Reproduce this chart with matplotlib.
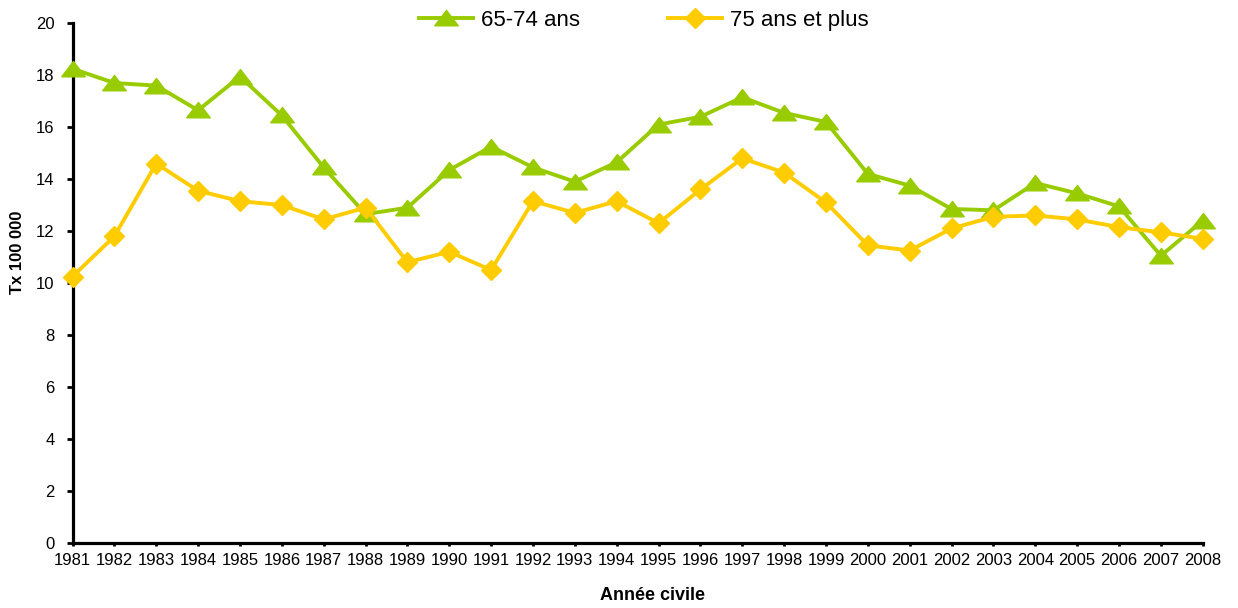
"""
Taux pour 100 000 par annee civile, 65-74 ans et 75 ans et plus
"""

import matplotlib
matplotlib.use("Agg")
import matplotlib.pyplot as plt
import numpy as np

plt.rcParams["font.family"] = ["Liberation Sans", "DejaVu Sans"]

years = [str(y) for y in range(1981, 2009)]

taux_65_74 = [18.25, 17.7, 17.6, 16.65, 17.95, 16.45, 14.45, 12.65, 12.9, 14.35,
              15.25, 14.45, 13.9, 14.65, 16.1, 16.4, 17.15, 16.55, 16.2, 14.2,
              13.75, 12.85, 12.8, 13.85, 13.45, 12.95, 11.05, 12.4]
taux_75_plus = [10.25, 11.8, 14.6, 13.55, 13.15, 13.0, 12.45, 12.9, 10.8, 11.2,
                10.5, 13.15, 12.7, 13.15, 12.3, 13.6, 14.8, 14.25, 13.1, 11.45,
                11.25, 12.1, 12.55, 12.6, 12.45, 12.15, 11.95, 11.7]

labels = ["65-74 ans", "75 ans et plus"]
green = "#99CC00"
yellow = "#FFCC00"

# wide, flat triangle like the excel marker
tri = [(-1, -0.62), (1, -0.62), (0, 0.68), (-1, -0.62)]

fig = plt.figure(figsize=(12.38, 6.08), dpi=100)
ax = fig.add_axes([0.0586, 0.1074, 0.9129, 0.8543])

x = np.arange(len(years))
l1, = ax.plot(x, taux_65_74, color=green, lw=2.8, marker=tri, ms=17,
              mec=green, mfc=green, clip_on=False, zorder=3,
              label=labels[0])
l2, = ax.plot(x, taux_75_plus, color=yellow, lw=2.8, marker="D", ms=10,
              mec=yellow, mfc=yellow, clip_on=False, zorder=4,
              label=labels[1])

ax.set_xlim(0, len(years) - 1)
ax.set_ylim(0, 20)
ax.set_yticks(np.arange(0, 21, 2))
ax.set_xticks(x)
ax.set_xticklabels(years)

for s in ["top", "right"]:
    ax.spines[s].set_visible(False)
for s in ["left", "bottom"]:
    ax.spines[s].set_linewidth(2.3)
    ax.spines[s].set_color("black")

ax.tick_params(axis="y", direction="out", length=4, width=2, pad=9,
               labelsize=12)
ax.tick_params(axis="x", direction="out", length=2.5, width=2, pad=5,
               labelsize=12)

fig.text(18 / 1238, 1 - 252 / 608, "Tx 100 000", rotation=90,
         fontsize=12, fontweight="bold", ha="center", va="center")
fig.text(652 / 1238, 1 - 596 / 608, "Année civile", fontsize=13,
         fontweight="bold", ha="center", va="center")

fig.legend(handles=[l1, l2], loc="center", bbox_to_anchor=(0.52, 0.967),
           ncol=2, frameon=False, fontsize=16, handlelength=2.4,
           handletextpad=0.35, columnspacing=4, borderpad=0)

fig.savefig("out.png", dpi=100)
plt.close(fig)
